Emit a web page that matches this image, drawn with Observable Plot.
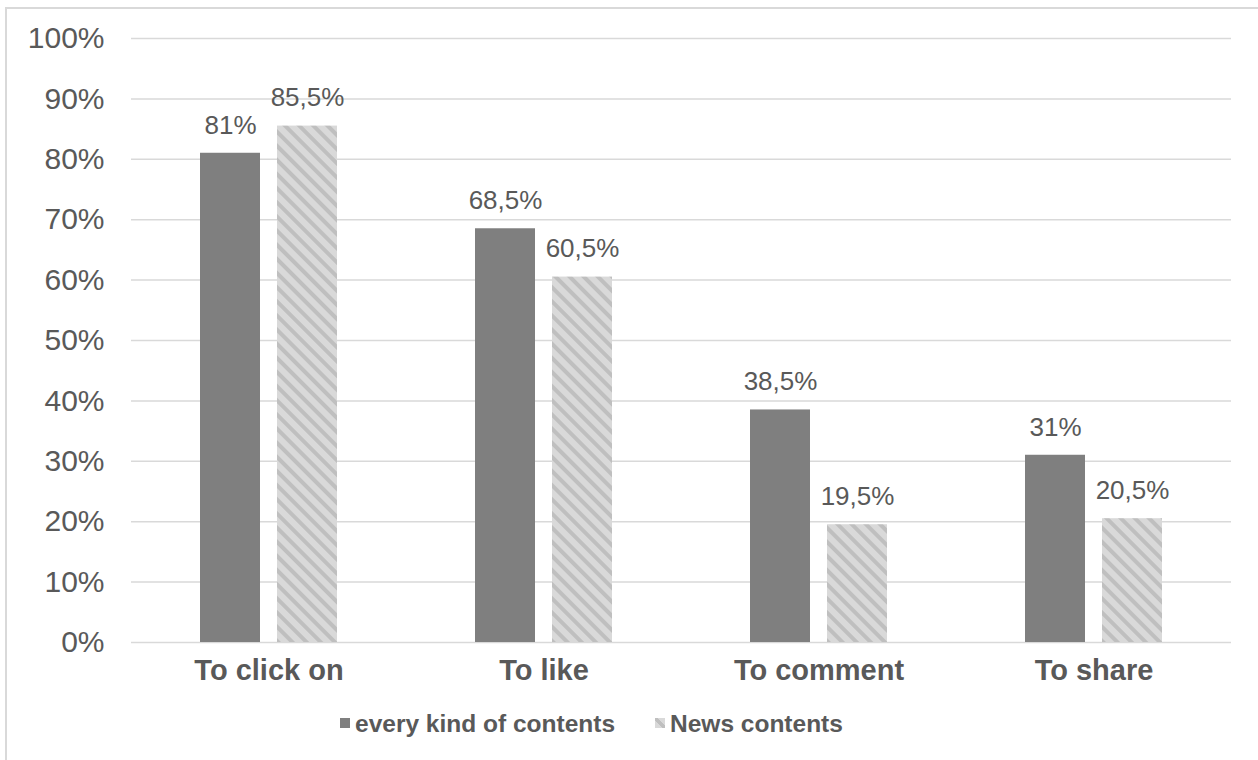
<!DOCTYPE html>
<html>
<head>
<meta charset="utf-8">
<script src="https://cdn.jsdelivr.net/npm/d3@7"></script>
<script src="https://cdn.jsdelivr.net/npm/@observablehq/plot@0.6"></script>
<style>
  html, body { margin: 0; padding: 0; background: #ffffff; }
  body { position: relative; width: 1258px; height: 760px; overflow: hidden; font-family: "Liberation Sans", Arial, sans-serif; }
  #frame { position: absolute; left: 5px; top: 7px; width: 1400px; height: 900px; border: 2px solid #d9d9d9; box-sizing: border-box; }
  #chart { position: absolute; left: 0; top: 0; }
  #legend { position: absolute; left: 0; top: 700px; width: 1258px; height: 60px; }
  .item { position: absolute; top: 12px; font-weight: bold; font-size: 24.5px; line-height: 24.5px; color: #595959; white-space: nowrap; }
  .sw { position: absolute; left: 0; top: 6px; width: 10px; height: 10px; }
  .lab { position: absolute; left: 15px; top: 0; }
</style>
</head>
<body>
<div id="frame"></div>
<div id="chart"></div>
<div id="legend"></div>
<script>
const categories = ["To click on", "To like", "To comment", "To share"];
const series = ["every kind of contents", "News contents"];
const everyKind = [81, 68.5, 38.5, 31];
const news = [85.5, 60.5, 19.5, 20.5];
const yTicks = [0, 10, 20, 30, 40, 50, 60, 70, 80, 90, 100];

const rows = [];
categories.forEach((c, i) => {
  rows.push({category: c, series: series[0], value: everyKind[i]});
  rows.push({category: c, series: series[1], value: news[i]});
});
const fmt = v => String(v).replace(".", ",") + "%";

const svg = Plot.plot({
  width: 1258,
  height: 700,
  marginLeft: 130,
  marginRight: 26,
  marginTop: 38,
  marginBottom: 58,
  style: {fontFamily: "'Liberation Sans', Arial, sans-serif", color: "#595959", background: "transparent", overflow: "visible"},
  fx: {domain: categories, padding: 0, label: null},
  x: {domain: series, paddingInner: 0.218, paddingOuter: 0.875, axis: null},
  y: {domain: [0, 100], label: null},
  marks: [
    Plot.gridY(yTicks, {stroke: "#d9d9d9", strokeOpacity: 1, strokeWidth: 1.5}),
    Plot.axisY(yTicks, {tickSize: 0, tickPadding: 27, tickFormat: d => d + "%", fontSize: 30, label: null, fill: "#595959"}),
    Plot.axisFx({anchor: "bottom", tickSize: 0, tickPadding: 17, fontSize: 29, fontWeight: "bold", label: null, fill: "#595959"}),
    Plot.barY(rows.filter(d => d.series === series[0]), {fx: "category", x: "series", y: "value", fill: "#7f7f7f"}),
    Plot.barY(rows.filter(d => d.series === series[1]), {fx: "category", x: "series", y: "value", fill: "url(#hatch)"}),
    Plot.text(rows, {fx: "category", x: "series", y: "value", text: d => fmt(d.value), dy: -28, fontSize: 26, fill: "#595959"})
  ]
});

const defs = d3.select(svg).insert("defs", ":first-child");
const pat = defs.append("pattern")
  .attr("id", "hatch")
  .attr("patternUnits", "userSpaceOnUse")
  .attr("width", 10)
  .attr("height", 10)
  .attr("patternTransform", "rotate(-45)");
pat.append("rect").attr("width", 10).attr("height", 10).attr("fill", "#d9d9d9");
pat.append("rect").attr("width", 4).attr("height", 10).attr("fill", "#bfbfbf");

document.getElementById("chart").appendChild(svg);

const legend = document.getElementById("legend");
const legendLefts = [340, 655];
const swatchBg = ["#7f7f7f", "linear-gradient(45deg, #d9d9d9 38%, #bfbfbf 38%, #bfbfbf 62%, #d9d9d9 62%)"];
series.forEach((s, i) => {
  const item = document.createElement("div");
  item.className = "item";
  item.style.left = legendLefts[i] + "px";
  const sw = document.createElement("div");
  sw.className = "sw";
  sw.style.background = swatchBg[i];
  const lab = document.createElement("div");
  lab.className = "lab";
  lab.textContent = s;
  item.appendChild(sw);
  item.appendChild(lab);
  legend.appendChild(item);
});
</script>
</body>
</html>
